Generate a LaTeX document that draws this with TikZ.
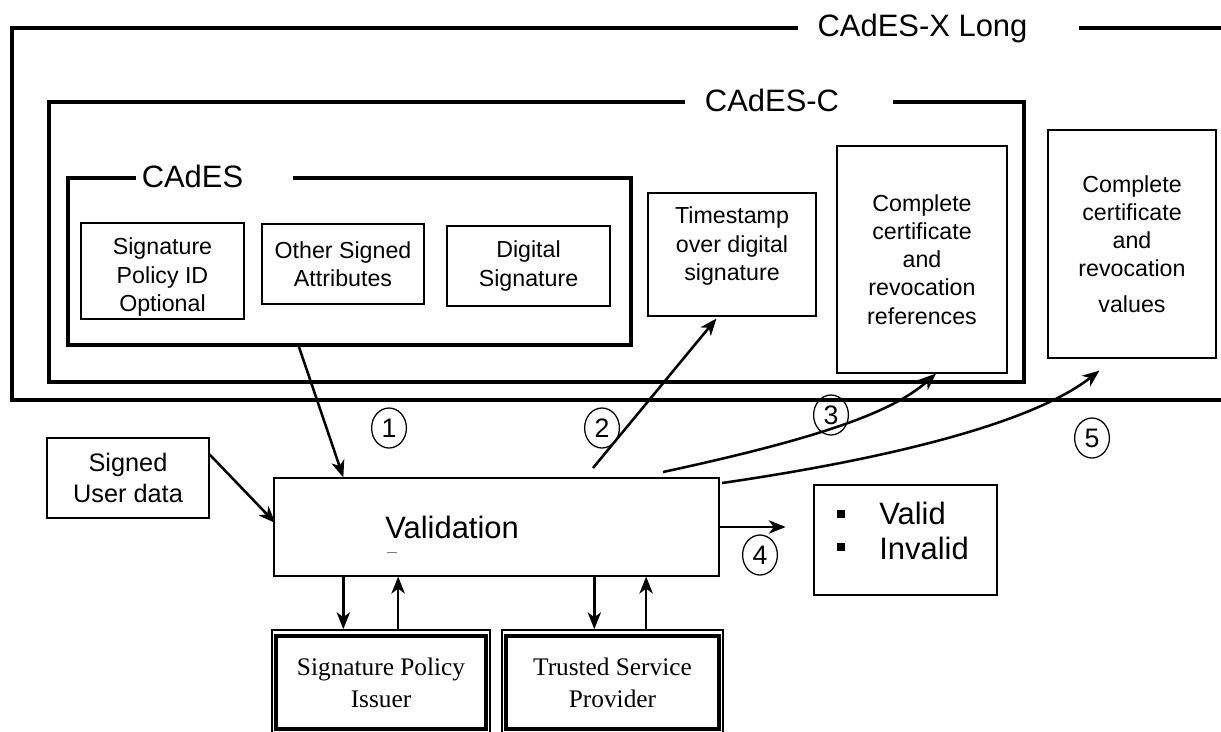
\documentclass[tikz,border=0pt]{standalone}
\usepackage{fontspec}
\setmainfont{Liberation Sans}
\newfontfamily\issuerfont{Liberation Serif}
\usetikzlibrary{calc, shapes.geometric, arrows.meta}

\begin{document}
\begin{tikzpicture}[x=0.025cm, y=-0.025cm,
    frame/.style={line width=2.2pt},
    arr/.style={line width=1.8pt, -{Stealth[length=12pt, width=9.5pt, inset=3.5pt]}},
    title/.style={font=\fontsize{22}{26}\selectfont, inner sep=0pt, anchor=base},
    box/.style={draw, line width=0.8pt, align=center, inner sep=0pt,
                font=\fontsize{16.5}{20}\selectfont},
    num/.style={draw, ellipse, line width=0.9pt, inner sep=0pt, minimum width=0.87cm,
                minimum height=1cm, font=\fontsize{19}{22}\selectfont},
    issuer/.style={draw, line width=1.2pt, align=center, inner sep=0pt,
                   minimum height=2.625cm, font=\issuerfont\fontsize{18}{22.7}\selectfont}]
    \clip (0,0) rectangle (1221,731);

    % CAdES-X Long frame
    \draw[frame] (798,28) -- (12,28) -- (12,400) -- (1230,400);
    \draw[frame] (1079,28) -- (1230,28);
    \node[title] (xlong) at (922.5,36) {CAdES-X Long};

    % CAdES-C frame
    \draw[frame] (685,102) -- (49,102) -- (49,382) -- (1024,382) -- (1024,102) -- (893,102);
    \node[title] (cadesc) at (772,111) {CAdES-C};

    % CAdES frame
    \draw[frame] (136,178) -- (68,178) -- (68,345) -- (631,345) -- (631,178) -- (293,178);
    \node[title] (cades) at (192.5,187) {CAdES};

    % signed attributes
    \node[box, minimum width=4.075cm, minimum height=2.4cm] (policy) at (162.5,271) {};
    \node[box, draw=none] (policytxt) at (162.5,277) {Signature\\Policy ID\\Optional};
    \node[box, minimum width=4.05cm, minimum height=2cm] (other) at (343,264)
      {Other Signed\\Attributes};
    \node[box, minimum width=4.075cm, minimum height=2cm] (digsig) at (528.5,266)
      {Digital\\Signature};

    % timestamp and references
    \node[box, minimum width=4.2cm, minimum height=3.075cm] (tstamp) at (732,254.5) {};
    \node[box, draw=none] (tstamptxt) at (732,246) {Timestamp\\over digital\\signature};
    \node[box, minimum width=4.25cm, minimum height=5.675cm] (certrefs) at (922,259.5)
      {Complete\\certificate\\and\\revocation\\references};
    \node[box, minimum width=4.2cm, minimum height=5.7cm] (certvals) at (1132,244)
      {Complete\\certificate\\and\\revocation\\[5pt]values};

    % validation
    \node[box, font=\fontsize{18}{21.5}\selectfont, minimum width=4.05cm,
          minimum height=2cm] (userdata) at (128,478) {Signed\\User data};
    \node[draw, line width=0.9pt, minimum width=11.125cm, minimum height=2.45cm]
      (valbox) at (496.5,527) {};
    \node[title, anchor=base west] (valtxt) at (385,538) {Validation};
    \draw[gray, line width=0.6pt] (387,552) -- (397,552);

    % result
    \node[draw, line width=0.9pt, minimum width=4.575cm, minimum height=2.75cm]
      (result) at (905.5,540) {};
    \node[fill, inner sep=0pt, minimum size=0.2cm] (b1) at (841,514) {};
    \node[fill, inner sep=0pt, minimum size=0.2cm] (b2) at (841,547) {};
    \node[title, anchor=base west] (validtxt) at (879,524) {Valid};
    \node[title, anchor=base west] (invalidtxt) at (879,559) {Invalid};

    % issuers
    \node[issuer, minimum width=5.45cm] (spissuer) at (381,682.5) {Signature Policy\\Issuer};
    \draw[line width=2.6pt] ($(spissuer.north west)+(5,7)$) rectangle ($(spissuer.south east)+(-5,-7)$);
    \node[issuer, minimum width=5.525cm] (tsp) at (612.5,682.5) {Trusted Service\\Provider};
    \draw[line width=2.6pt] ($(tsp.north west)+(5,7)$) rectangle ($(tsp.south east)+(-5,-7)$);

    % step numbers
    \node[num] (n1) at (389,428) {1};
    \node[num] (n2) at (602,428) {2};
    \node[num] (n3) at (831,415) {3};
    \node[num] (n4) at (760,555) {4};
    \node[num] (n5) at (1092,438) {5};

    % arrows
    \coordinate (cadesbot) at (299,347);
    \draw[arr] (cadesbot) -- ($(valbox.north west)+(70,0)$);
    \draw[arr] ($(userdata.north east)+(0,17)$) -- ($(valbox.west)+(2,-4)$);

    \coordinate (s2) at (593,468);
    \draw[arr] (s2) -- ($(tstamp.south west)+(69,2)$);
    \coordinate (s3) at (663,472);
    \draw[arr] (s3) .. controls (830,436) and (895,410) .. ($(certrefs.south)+(14,0)$);
    \coordinate (s5) at (722,483);
    \coordinate (e5) at ($(certvals.south west)+(52,12)$);
    \draw[arr] (s5) .. controls (880,460) and (1030,425) .. (e5);

    \coordinate (out4) at ($(valbox.east)+(66,0)$);
    \draw[arr] (valbox.east) -- (out4);

    \coordinate (d1) at ($(valbox.south west)+(70,0)$);
    \draw[arr] (d1) -- (d1 |- spissuer.north);
    \coordinate (u1) at ($(spissuer.north west)+(127,0)$);
    \draw[arr] (u1) -- (u1 |- valbox.south);
    \coordinate (d2) at ($(valbox.south west)+(321,0)$);
    \draw[arr] (d2) -- (d2 |- tsp.north);
    \coordinate (u2) at ($(tsp.north west)+(145,0)$);
    \draw[arr] (u2) -- (u2 |- valbox.south);
\end{tikzpicture}
\end{document}
